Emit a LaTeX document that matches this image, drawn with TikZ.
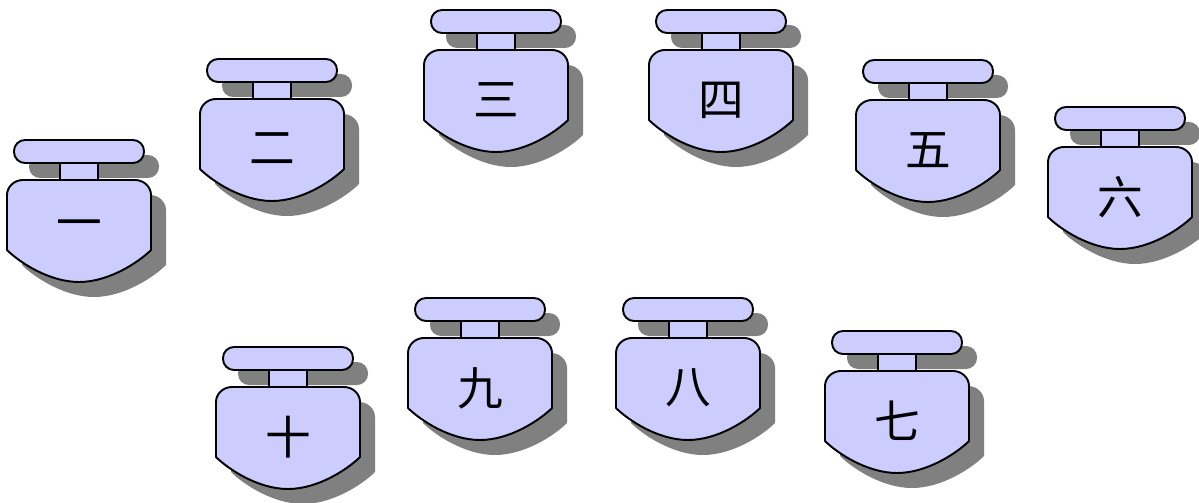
\documentclass[tikz,border=0pt]{standalone}
\usepackage{fontspec}
\newfontfamily\cjk{Noto Sans CJK SC}
\usetikzlibrary{positioning}
\definecolor{potfill}{HTML}{CCCCFF}
\definecolor{potshade}{HTML}{808080}
\tikzset{
  pot/.style={draw=black, line width=1.1pt, fill=potfill, line join=round},
  shade/.style={fill=potshade, draw=none},
  potlabel/.style={font=\cjk\fontsize{26}{26}\selectfont, inner sep=0pt},
}
% body of one weight, cap top centre at (0,0), units in px
\newcommand{\potbody}{(-56,40) -- (56,40) .. controls (65,40) and (72,47) .. (72,55) -- (72,110) .. controls (60,122) and (30,142) .. (0,142) .. controls (-30,142) and (-60,122) .. (-72,110) -- (-72,55) .. controls (-72,47) and (-65,40) .. (-56,40) -- cycle}

\begin{document}
\begin{tikzpicture}[x=0.02cm, y=-0.02cm]
  \useasboundingbox (0,0) rectangle (1199,503);
  \foreach \n/\x/\y/\t in {1/79/140/一, 2/272/59/二, 3/496/10/三, 4/721/10/四, 5/928/60/五,
                          6/1120/107/六, 7/897/331/七, 8/688/298/八, 9/480/298/九, 10/288/347/十}{
    \begin{scope}[shift={(\x,\y)}]
      % shadow
      \fill[shade, rounded corners=0.22cm] (-50,15) rectangle (80,38);
      \fill[shade, shift={(15,15)}] \potbody;
      % weight
      \draw[pot] (-19,23) rectangle (19,40);
      \draw[pot, rounded corners=0.22cm] (-65,0) rectangle (65,23);
      \draw[pot] \potbody;
      \node[potlabel] (p\n) at (0,90) {\t};
    \end{scope}
  }
\end{tikzpicture}
\end{document}
